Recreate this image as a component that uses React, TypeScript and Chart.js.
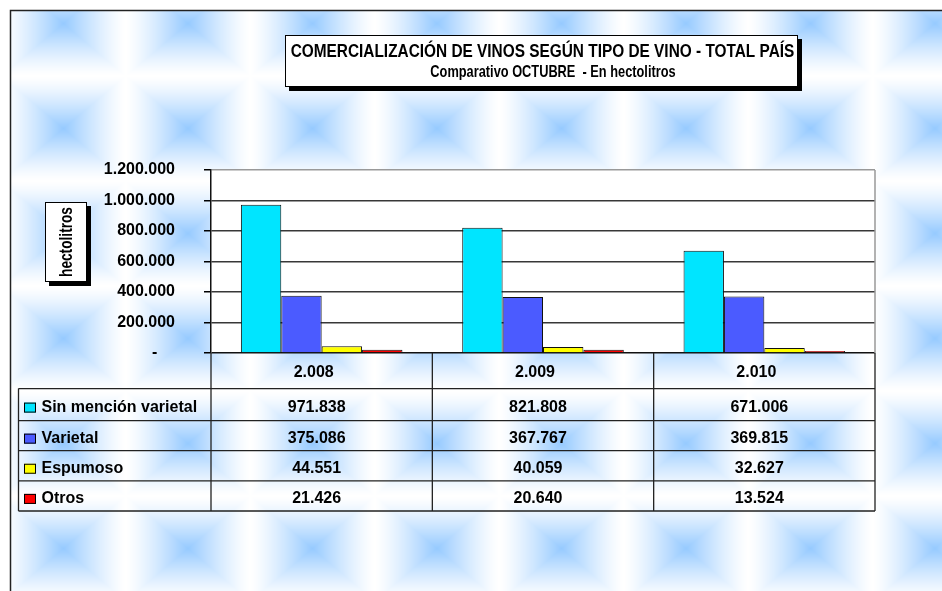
import { useEffect, useRef } from 'react';
import { Chart, registerables } from 'chart.js';

Chart.register(...registerables);

// ---- data ----
const years = ['2.008', '2.009', '2.010'];
const seriesNames = ['Sin mención varietal', 'Varietal', 'Espumoso', 'Otros'];
const sinMencionVarietal = [971838, 821808, 671006];
const varietal = [375086, 367767, 369815];
const espumoso = [44551, 40059, 32627];
const otros = [21426, 20640, 13524];
const seriesColors = ['#00E5FF', '#4B5BFF', '#FFFF00', '#FF0000'];
const yMin = 0;
const yMax = 1200000;
const yStep = 200000;
const titleLine1 = 'COMERCIALIZACIÓN DE VINOS SEGÚN TIPO DE VINO - TOTAL PAÍS';
const titleLine2 = 'Comparativo OCTUBRE  - En hectolitros';
const yTitle = 'hectolitros';

const FONT = "'Liberation Sans', Arial, Helvetica, sans-serif";

const fmt = (v: number) =>
  Math.round(v)
    .toString()
    .replace(/\B(?=(\d{3})+(?!\d))/g, '.');

function makeBackground(w: number, h: number): HTMLCanvasElement {
  const c = document.createElement('canvas');
  c.width = w;
  c.height = h;
  const g = c.getContext('2d')!;
  const img = g.createImageData(w, h);
  const Px = 124.5;
  const Py = 105;
  const cx0 = 63;
  const cy0 = 23;
  const blue = [150, 202, 255];
  for (let y = 0; y < h; y++) {
    for (let x = 0; x < w; x++) {
      const i = (y * w + x) * 4;
      let r = 255, gg = 255, b = 255;
      if (x >= 10 && y >= 10) {
        let u = ((((x - cx0) % Px) + Px) % Px) / Px;
        let v = ((((y - cy0) % Py) + Py) % Py) / Py;
        if (u > 0.5) u = 1 - u;
        if (v > 0.5) v = 1 - v;
        const d = Math.min(1, Math.max(u, v) * 2);
        const wgt = Math.pow(1 - d, 1.3);
        r = 255 - wgt * (255 - blue[0]);
        gg = 255 - wgt * (255 - blue[1]);
        b = 255 - wgt * (255 - blue[2]);
      }
      img.data[i] = r;
      img.data[i + 1] = gg;
      img.data[i + 2] = b;
      img.data[i + 3] = 255;
    }
  }
  g.putImageData(img, 0, 0);
  return c;
}

function boxWithShadow(ctx: CanvasRenderingContext2D, x: number, y: number, w: number, h: number, s: number) {
  ctx.save();
  ctx.fillStyle = '#000';
  ctx.fillRect(x + s, y + s, w, h);
  ctx.fillStyle = '#fff';
  ctx.fillRect(x, y, w, h);
  ctx.strokeStyle = '#000';
  ctx.lineWidth = 1;
  ctx.strokeRect(x + 0.5, y + 0.5, w - 1, h - 1);
  ctx.restore();
}

function stretchedText(
  ctx: CanvasRenderingContext2D,
  text: string,
  x: number,
  y: number,
  size: number,
  sy: number,
  align: CanvasTextAlign,
  rot = 0
) {
  ctx.save();
  ctx.translate(x, y);
  if (rot) ctx.rotate(rot);
  ctx.scale(1, sy);
  ctx.font = `bold ${size}px ${FONT}`;
  ctx.fillStyle = '#000';
  ctx.textAlign = align;
  ctx.textBaseline = 'middle';
  ctx.fillText(text, 0, 0);
  ctx.restore();
}

export default function App() {
  const ref = useRef<HTMLCanvasElement>(null);

  useEffect(() => {
    document.body.style.margin = '0';
    const canvas = ref.current!;
    const bg = makeBackground(942, 591);
    const allSeries = [sinMencionVarietal, varietal, espumoso, otros];

    const bgPlugin = {
      id: 'bgPlugin',
      beforeDraw(chart: any) {
        const ctx = chart.ctx as CanvasRenderingContext2D;
        const { left, right, top, bottom } = chart.chartArea;
        ctx.save();
        ctx.drawImage(bg, 0, 0);
        ctx.fillStyle = '#fff';
        ctx.fillRect(left, top, right - left, bottom - top);
        ctx.restore();
      },
    };

    const tablePlugin = {
      id: 'tablePlugin',
      afterDraw(chart: any) {
        const ctx = chart.ctx as CanvasRenderingContext2D;
        const { left, right, top, bottom } = chart.chartArea;
        const xs = chart.scales.x;
        const n = years.length;
        const colW = n > 1 ? xs.getPixelForTick(1) - xs.getPixelForTick(0) : right - left;
        const bounds: number[] = [];
        for (let i = 0; i < n; i++) bounds.push(xs.getPixelForTick(i) - colW / 2);
        bounds.push(xs.getPixelForTick(n - 1) + colW / 2);

        // outer frame
        ctx.save();
        ctx.strokeStyle = '#222';
        ctx.lineWidth = 1.5;
        ctx.beginPath();
        ctx.moveTo(10.5, 591);
        ctx.lineTo(10.5, 10.5);
        ctx.lineTo(942, 10.5);
        ctx.stroke();

        // plot area right border (gray)
        ctx.strokeStyle = '#999';
        ctx.lineWidth = 1.5;
        ctx.beginPath();
        ctx.moveTo(right, top);
        ctx.lineTo(right, bottom);
        ctx.stroke();

        // table
        const tableLeft = 18.5;
        const headerBottom = bottom + 35.6;
        const rowH = [32, 30.1, 30.1, 30.2];
        const rowTops: number[] = [headerBottom];
        for (let i = 0; i < rowH.length; i++) rowTops.push(rowTops[i] + rowH[i]);
        const tableBottom = rowTops[rowTops.length - 1];

        ctx.strokeStyle = '#222';
        ctx.lineWidth = 1.3;
        ctx.beginPath();
        for (let i = 0; i < rowTops.length; i++) {
          ctx.moveTo(tableLeft, rowTops[i]);
          ctx.lineTo(right, rowTops[i]);
        }
        ctx.moveTo(tableLeft, headerBottom);
        ctx.lineTo(tableLeft, tableBottom);
        for (let i = 0; i <= n; i++) {
          ctx.moveTo(bounds[i], bottom);
          ctx.lineTo(bounds[i], tableBottom);
        }
        ctx.stroke();

        ctx.font = `bold 16px ${FONT}`;
        ctx.fillStyle = '#000';
        ctx.textBaseline = 'middle';
        // header years
        ctx.textAlign = 'center';
        for (let i = 0; i < n; i++) {
          const cx = (bounds[i] + bounds[i + 1]) / 2 - 8;
          ctx.fillText(years[i], cx, (bottom + headerBottom) / 2 + 1.5);
        }
        // rows
        for (let r = 0; r < seriesNames.length; r++) {
          const cy = (rowTops[r] + rowTops[r + 1]) / 2 + 3;
          // legend key
          ctx.fillStyle = seriesColors[r];
          ctx.fillRect(24, cy - 5, 12, 10);
          ctx.strokeStyle = '#000';
          ctx.lineWidth = 1;
          ctx.strokeRect(24.5, cy - 4.5, 11, 9);
          ctx.fillStyle = '#000';
          ctx.textAlign = 'left';
          ctx.fillText(seriesNames[r], 41.5, cy);
          ctx.textAlign = 'center';
          for (let i = 0; i < n; i++) {
            const cx = (bounds[i] + bounds[i + 1]) / 2 - 5;
            ctx.fillText(fmt(allSeries[r][i]), cx, cy);
          }
        }
        ctx.restore();

        // title box
        boxWithShadow(ctx, 285, 35, 513, 52, 4);
        stretchedText(ctx, titleLine1, 542.5, 52, 15.4, 1.22, 'center');
        stretchedText(ctx, titleLine2, 553, 72, 12.8, 1.35, 'center');

        // y axis title box
        boxWithShadow(ctx, 45, 202, 42, 80, 4);
        stretchedText(ctx, yTitle, 67, 242, 13.7, 1.3, 'center', -Math.PI / 2);
      },
    };

    const chart = new Chart(canvas, {
      type: 'bar',
      data: {
        labels: years,
        datasets: seriesNames.map((name, i) => ({
          label: name,
          data: allSeries[i],
          backgroundColor: seriesColors[i],
          borderColor: '#111',
          borderWidth: 1,
          categoryPercentage: 0.73,
          barPercentage: 1,
        })),
      },
      options: {
        responsive: false,
        animation: false,
        devicePixelRatio: 1,
        layout: { padding: { top: 170, bottom: 238, left: 0, right: 67 } },
        plugins: {
          legend: { display: false },
          title: { display: false },
          tooltip: { enabled: false },
        },
        scales: {
          x: { display: false },
          y: {
            min: yMin,
            max: yMax,
            afterFit: (s: any) => {
              s.width = 211;
            },
            ticks: {
              stepSize: yStep,
              padding: 29,
              color: '#000',
              font: { family: FONT, size: 16, weight: 'bold' },
              callback: (v: any) => (Number(v) === 0 ? '-    ' : fmt(Number(v))),
            },
            grid: {
              color: (c: any) => (c.tick && c.tick.value === yMax ? '#999' : c.tick && c.tick.value === 0 ? '#111' : '#383838'),
              lineWidth: 1.5,
              tickLength: 7,
              tickColor: '#000',
            },
            border: { color: '#111', width: 1.5 },
          },
        },
      } as any,
      plugins: [bgPlugin, tablePlugin],
    });
    return () => chart.destroy();
  }, []);

  return (
    <canvas
      ref={ref}
      width={942}
      height={591}
      style={{ position: 'fixed', left: 0, top: 0, width: 942, height: 591 }}
    />
  );
}
